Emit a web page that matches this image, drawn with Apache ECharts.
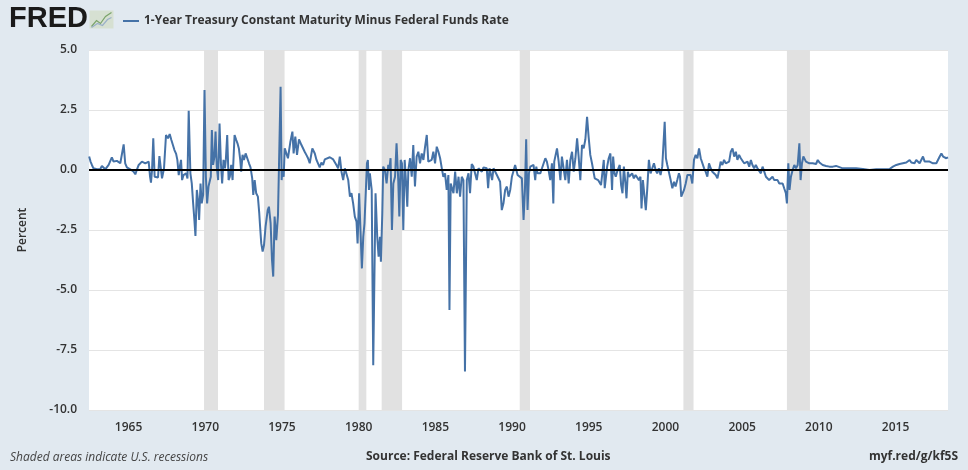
<!DOCTYPE html>
<html>
<head>
<meta charset="utf-8">
<script src="https://cdn.jsdelivr.net/npm/echarts@6/dist/echarts.min.js"></script>
<style>
  html, body { margin: 0; padding: 0; background: #e1e9f0; }
  #chart { width: 968px; height: 470px; }
</style>
</head>
<body>
<div id="chart"></div>
<script>
// decimal years and the monthly spread (percent)
const dates = [
  1962.43, 1962.52, 1962.61, 1962.71, 1962.82, 1962.93, 1963.04, 1963.15, 1963.26, 1963.37,
  1963.48, 1963.59, 1963.70, 1963.80, 1963.91, 1964.02, 1964.13, 1964.24, 1964.35, 1964.46,
  1964.57, 1964.68, 1964.78, 1964.89, 1965.00, 1965.11, 1965.22, 1965.33, 1965.44, 1965.55,
  1965.66, 1965.76, 1965.87, 1965.98, 1966.09, 1966.20, 1966.31, 1966.40, 1966.46, 1966.53,
  1966.61, 1966.70, 1966.81, 1966.92, 1967.01, 1967.09, 1967.18, 1967.31, 1967.44, 1967.57,
  1967.68, 1967.79, 1967.90, 1967.99, 1968.10, 1968.18, 1968.27, 1968.36, 1968.42, 1968.49,
  1968.58, 1968.66, 1968.75, 1968.84, 1968.92, 1969.03, 1969.12, 1969.21, 1969.29, 1969.36,
  1969.45, 1969.53, 1969.60, 1969.69, 1969.77, 1969.86, 1969.95, 1970.04, 1970.12, 1970.21,
  1970.30, 1970.36, 1970.43, 1970.51, 1970.60, 1970.67, 1970.75, 1970.84, 1970.93, 1971.02,
  1971.10, 1971.19, 1971.28, 1971.34, 1971.43, 1971.52, 1971.60, 1971.69, 1971.78, 1971.91,
  1972.02, 1972.10, 1972.19, 1972.28, 1972.34, 1972.43, 1972.52, 1972.63, 1972.74, 1972.85,
  1972.95, 1973.06, 1973.13, 1973.22, 1973.32, 1973.43, 1973.52, 1973.56, 1973.65, 1973.74,
  1973.83, 1973.93, 1974.07, 1974.15, 1974.26, 1974.35, 1974.43, 1974.52, 1974.63, 1974.74,
  1974.81, 1974.91, 1974.98, 1975.02, 1975.11, 1975.18, 1975.29, 1975.39, 1975.55, 1975.68,
  1975.76, 1975.87, 1975.98, 1976.11, 1976.27, 1976.37, 1976.48, 1976.59, 1976.70, 1976.81,
  1976.98, 1977.14, 1977.25, 1977.36, 1977.46, 1977.57, 1977.68, 1977.79, 1977.90, 1978.12,
  1978.34, 1978.44, 1978.55, 1978.66, 1978.77, 1978.88, 1978.99, 1979.10, 1979.21, 1979.32,
  1979.43, 1979.53, 1979.64, 1979.75, 1979.86, 1979.93, 1980.03, 1980.12, 1980.21, 1980.30,
  1980.38, 1980.47, 1980.54, 1980.60, 1980.67, 1980.73, 1980.85, 1980.95, 1981.10, 1981.21,
  1981.30, 1981.39, 1981.45, 1981.54, 1981.60, 1981.71, 1981.82, 1981.93, 1981.99, 1982.08,
  1982.17, 1982.26, 1982.37, 1982.47, 1982.58, 1982.65, 1982.74, 1982.82, 1982.91, 1983.00,
  1983.08, 1983.17, 1983.24, 1983.35, 1983.46, 1983.56, 1983.67, 1983.78, 1983.89, 1984.00,
  1984.11, 1984.22, 1984.33, 1984.44, 1984.54, 1984.65, 1984.76, 1984.87, 1984.98, 1985.09,
  1985.20, 1985.31, 1985.42, 1985.52, 1985.63, 1985.74, 1985.85, 1985.92, 1986.00, 1986.09,
  1986.18, 1986.29, 1986.40, 1986.51, 1986.61, 1986.72, 1986.83, 1986.93, 1987.05, 1987.16,
  1987.26, 1987.37, 1987.48, 1987.59, 1987.70, 1987.81, 1987.92, 1988.03, 1988.14, 1988.24,
  1988.35, 1988.44, 1988.53, 1988.61, 1988.70, 1988.79, 1988.90, 1989.01, 1989.12, 1989.22,
  1989.33, 1989.44, 1989.55, 1989.66, 1989.77, 1989.88, 1989.99, 1990.10, 1990.20, 1990.27,
  1990.36, 1990.49, 1990.64, 1990.75, 1990.84, 1990.92, 1991.01, 1991.10, 1991.19, 1991.29,
  1991.40, 1991.51, 1991.58, 1991.66, 1991.75, 1991.84, 1991.95, 1992.06, 1992.17, 1992.27,
  1992.38, 1992.49, 1992.60, 1992.69, 1992.75, 1992.84, 1992.93, 1993.04, 1993.15, 1993.25,
  1993.36, 1993.47, 1993.58, 1993.69, 1993.80, 1993.91, 1994.02, 1994.13, 1994.24, 1994.34,
  1994.45, 1994.56, 1994.67, 1994.78, 1994.89, 1994.99, 1995.10, 1995.21, 1995.32, 1995.39,
  1995.50, 1995.61, 1995.72, 1995.80, 1995.89, 1995.98, 1996.04, 1996.11, 1996.20, 1996.30,
  1996.41, 1996.52, 1996.59, 1996.68, 1996.76, 1996.85, 1996.96, 1997.02, 1997.11, 1997.20,
  1997.29, 1997.39, 1997.46, 1997.55, 1997.63, 1997.72, 1997.83, 1997.94, 1998.05, 1998.16,
  1998.27, 1998.37, 1998.44, 1998.53, 1998.64, 1998.72, 1998.81, 1998.92, 1999.03, 1999.14,
  1999.25, 1999.36, 1999.46, 1999.57, 1999.68, 1999.79, 1999.86, 1999.95, 2000.03, 2000.12,
  2000.23, 2000.34, 2000.45, 2000.56, 2000.66, 2000.77, 2000.88, 2000.95, 2001.03, 2001.14,
  2001.21, 2001.32, 2001.43, 2001.54, 2001.64, 2001.75, 2001.86, 2001.97, 2002.08, 2002.19,
  2002.30, 2002.41, 2002.52, 2002.62, 2002.73, 2002.84, 2002.95, 2003.06, 2003.17, 2003.28,
  2003.39, 2003.50, 2003.60, 2003.71, 2003.82, 2003.93, 2004.04, 2004.15, 2004.26, 2004.37,
  2004.48, 2004.59, 2004.69, 2004.80, 2004.91, 2005.02, 2005.13, 2005.24, 2005.35, 2005.46,
  2005.57, 2005.67, 2005.78, 2005.89, 2006.00, 2006.11, 2006.22, 2006.33, 2006.44, 2006.55,
  2006.66, 2006.76, 2006.87, 2006.98, 2007.09, 2007.20, 2007.31, 2007.42, 2007.53, 2007.64,
  2007.74, 2007.85, 2007.92, 2008.01, 2008.09, 2008.18, 2008.29, 2008.40, 2008.51, 2008.62,
  2008.73, 2008.81, 2008.90, 2008.99, 2009.16, 2009.38, 2009.60, 2009.82, 2009.93, 2010.04,
  2010.25, 2010.47, 2010.69, 2010.91, 2011.12, 2011.56, 2011.99, 2012.43, 2012.87, 2013.30,
  2013.74, 2014.17, 2014.61, 2014.83, 2015.05, 2015.26, 2015.48, 2015.70, 2015.92, 2016.03,
  2016.14, 2016.24, 2016.35, 2016.57, 2016.79, 2016.90, 2017.01, 2017.22, 2017.44, 2017.66,
  2017.88, 2017.99, 2018.10, 2018.21, 2018.31, 2018.42
];
const spread = [
  0.56, 0.35, 0.21, 0.07, 0.11, 0.03, 0.11, 0.03, 0.17, 0.11,
  0.03, 0.11, 0.21, 0.28, 0.53, 0.35, 0.42, 0.38, 0.35, 0.28,
  0.25, 1.07, 0.28, 0.11, 0.07, 0.03, -0.03, -0.07, -0.18, 0.03,
  0.21, 0.25, 0.35, 0.39, 0.28, 0.28, 0.35, -0.28, -0.53, 0.0,
  1.32, -0.28, -0.21, -0.31, 0.58, 0.14, -0.35, 0.07, 1.46, 1.32,
  1.5, 1.25, 1.32, 0.83, 0.67, 0.42, -0.21, 0.21, 0.42, -0.42,
  -0.21, -0.28, -0.14, -0.35, 2.47, -0.14, -0.56, -1.39, -2.08, -2.75,
  -0.83, -1.25, -2.08, -0.56, -1.39, -1.04, 3.33, -0.28, -1.39, -0.69,
  -0.63, -0.28, 1.67, 0.21, 0.56, 1.6, 0.14, -0.42, 1.94, 0.28,
  -0.56, 0.42, 0.07, 0.42, 1.46, -0.42, -0.28, 0.21, -0.42, 1.46,
  1.25, 1.11, 0.9, 0.42, -0.07, 0.63, 0.42, 0.69, 0.63, 0.28,
  0.11, -0.35, -1.04, -0.42, -0.97, -1.11, -1.81, -2.22, -3.06, -3.40,
  -3.13, -2.36, -1.67, -1.53, -2.22, -3.75, -4.44, -1.94, -2.92, -1.88,
  -1.94, 3.47, -0.42, 0.0, -0.28, 0.9, 0.83, 0.49, 1.18, 1.6,
  0.69, 1.39, 0.63, 1.28, 1.04, 1.04, 0.76, 0.63, 0.49, 0.28,
  0.9, 0.69, 0.42, 0.35, 0.11, 0.31, 0.21, 0.44, 0.42, 0.53,
  0.44, 0.42, 0.21, 0.07, 0.56, -0.07, -0.42, 0.07, 0.07, -0.42,
  -1.11, -0.97, -1.39, -1.94, -2.15, -3.06, -0.97, -0.90, -4.10, -2.78,
  -2.22, -0.83, 0.28, 0.42, -0.83, -0.14, -0.83, -8.13, -0.97, -2.78,
  -3.61, -2.78, -3.82, -1.81, 0.14, 0.0, -0.56, 0.21, 0.0, 0.49,
  -2.5, -0.56, -0.28, 1.11, -0.42, -1.94, 0.42, 0.28, -2.5, 0.42,
  -0.42, -1.53, 0.0, 0.49, -0.28, 1.04, -0.69, 0.56, 0.76, 0.28,
  0.69, 0.42, 0.97, 1.46, 0.35, 0.28, 0.42, 0.76, 0.28, 0.97,
  0.76, 0.49, 0.07, -0.28, -0.14, -0.83, -0.21, -5.83, -0.56, -0.56,
  -0.97, -0.07, -0.97, -0.28, -1.11, -0.28, -0.42, -8.4, -0.42, -0.14,
  -0.97, 0.25, 0.14, 0.21, -0.42, 0.07, 0.14, -0.07, 0.11, 0.07,
  0.07, -0.76, 0.07, 0.14, -0.42, 0.07, 0.0, -0.21, -0.14, -0.49,
  -1.67, -1.39, -0.83, -0.69, -1.11, -0.83, -0.28, -0.21, 0.21, 0.28,
  -0.21, -0.28, -0.35, -2.08, -0.83, 1.28, -1.67, -0.14, 0.14, 0.17,
  0.21, -0.42, 0.14, -0.14, -0.14, -0.14, -0.07, 0.28, 0.49, 0.35,
  0.0, -0.42, 0.28, -1.39, 0.35, 0.42, 0.9, 0.35, -0.42, 0.56,
  0.49, -0.42, 0.42, -0.56, 0.42, 0.76, -0.07, 0.49, 1.32, 0.56,
  -0.42, 1.04, 0.9, 1.28, 2.22, 1.39, 0.63, 0.28, 0.35, -0.35,
  -0.28, -0.42, -0.42, -0.63, -0.69, 0.42, -0.76, -0.83, 0.14, 0.49,
  0.69, -0.83, 0.56, -0.14, -0.28, -0.07, -0.07, 0.21, -0.63, -0.97,
  0.14, -0.56, -1.18, -0.07, -0.28, -0.28, -0.14, -0.35, -0.21, -0.28,
  -0.42, -0.28, -1.60, -0.42, -0.42, -1.67, -0.83, 0.42, -0.14, -0.07,
  0.28, 0.0, -0.14, 0.07, -0.21, 0.14, 0.21, 2.01, 0.49, 0.21,
  0.14, -0.42, -0.76, -0.49, -0.69, -0.42, -0.14, -0.28, -1.11, -1.18,
  -0.83, -0.56, -0.21, -0.28, -0.21, -0.56, 0.42, 0.63, 0.49, 0.9,
  0.49, 0.42, 0.07, -0.07, -0.28, 0.28, 0.07, -0.07, -0.14, -0.21,
  -0.35, 0.0, 0.35, 0.21, 0.42, 0.28, 0.21, 0.35, 0.76, 0.9,
  0.56, 0.76, 0.42, 0.63, 0.49, 0.42, 0.28, 0.21, 0.35, 0.14,
  0.42, 0.21, 0.07, 0.21, 0.07, 0.14, -0.14, 0.14, -0.07, -0.28,
  -0.21, -0.42, -0.35, -0.28, -0.42, -0.49, -0.42, -0.56, -0.63, -0.56,
  -0.76, -0.97, -1.39, 0.28, -0.83, -0.28, 0.0, 0.21, 0.07, 0.21,
  1.11, -0.42, 0.28, 0.56, 0.35, 0.28, 0.28, 0.25, 0.42, 0.31,
  0.21, 0.17, 0.14, 0.14, 0.17, 0.07, 0.07, 0.07, 0.04, 0.0,
  0.03, 0.03, 0.04, 0.14, 0.21, 0.25, 0.28, 0.31, 0.42, 0.31,
  0.35, 0.28, 0.42, 0.28, 0.56, 0.35, 0.42, 0.35, 0.28, 0.28,
  0.56, 0.69, 0.56, 0.63, 0.49, 0.53
];
const recessionStart = [1969.92, 1973.83, 1980.0, 1981.5, 1990.5, 2001.17, 2007.92];
const recessionEnd = [1970.83, 1975.17, 1980.5, 1982.83, 1991.17, 2001.83, 2009.42];
const yearTicks = [1965, 1970, 1975, 1980, 1985, 1990, 1995, 2000, 2005, 2010, 2015];

const seriesName = '1-Year Treasury Constant Maturity Minus Federal Funds Rate';
const labelFont = 'Open Sans';

const chart = echarts.init(document.getElementById('chart'));
chart.setOption({
  backgroundColor: '#e1e9f0',
  animation: false,
  textStyle: { fontFamily: labelFont },
  grid: {
    left: 89,
    right: 20,
    top: 50,
    bottom: 60,
    show: true,
    backgroundColor: '#ffffff',
    borderWidth: 0
  },
  legend: {
    left: 118,
    top: 10,
    icon: 'rect',
    itemWidth: 16,
    itemHeight: 2,
    itemGap: 6,
    textStyle: {
      color: '#333',
      fontSize: 12,
      fontWeight: 'bold',
      fontFamily: labelFont
    },
    data: [seriesName]
  },
  graphic: [
    {
      type: 'text',
      left: 9,
      top: 4,
      style: {
        text: 'FRED',
        font: 'bold 29px "Liberation Sans"',
        fill: '#1a1a1a'
      }
    },
    {
      type: 'group',
      left: 89,
      top: 10,
      children: [
        { type: 'rect', shape: { x: 0, y: 0, width: 24, height: 18 }, style: { fill: '#d6e0d2' } },
        { type: 'polyline', shape: { points: [[2, 16], [7, 10], [11, 13], [16, 6], [22, 2]] }, style: { stroke: '#7aa36a', lineWidth: 1.2, fill: null } },
        { type: 'polyline', shape: { points: [[2, 17], [8, 13], [13, 15], [18, 9], [22, 7]] }, style: { stroke: '#9ab0c8', lineWidth: 1.2, fill: null } }
      ]
    },
    {
      type: 'text',
      left: 10,
      top: 452,
      style: {
        text: 'Shaded areas indicate U.S. recessions',
        font: 'italic 12px "Open Sans"',
        fill: '#444'
      }
    },
    {
      type: 'text',
      left: 366,
      top: 451,
      style: {
        text: 'Source: Federal Reserve Bank of St. Louis',
        font: 'bold 12px "Open Sans"',
        fill: '#333'
      }
    },
    {
      type: 'text',
      right: 10,
      top: 451,
      style: {
        text: 'myf.red/g/kf5S',
        font: 'bold 12px "Open Sans"',
        fill: '#333'
      }
    }
  ],
  xAxis: {
    type: 'value',
    min: 1962.42,
    max: 2018.42,
    axisLine: { show: false },
    axisTick: { show: false },
    splitLine: { show: false },
    axisLabel: {
      customValues: yearTicks,
      formatter: (v) => String(Math.round(v)),
      color: '#333',
      fontSize: 12,
      fontWeight: 600,
      margin: 12
    }
  },
  yAxis: {
    type: 'value',
    min: -10,
    max: 5,
    interval: 2.5,
    name: 'Percent',
    nameLocation: 'middle',
    nameGap: 60,
    nameTextStyle: { color: '#333', fontSize: 12, fontWeight: 600 },
    axisLine: { show: false },
    axisTick: { show: false },
    splitLine: { lineStyle: { color: '#e4e4e4', width: 1 } },
    axisLabel: {
      formatter: (v) => v.toFixed(1),
      color: '#333',
      fontSize: 12,
      fontWeight: 600,
      margin: 12
    }
  },
  series: [
    {
      name: seriesName,
      type: 'line',
      symbol: 'none',
      lineStyle: { color: '#4572a7', width: 2 },
      itemStyle: { color: '#4572a7' },
      data: dates.map((d, i) => [d, spread[i]]),
      markArea: {
        silent: true,
        itemStyle: { color: '#e1e1e1' },
        data: recessionStart.map((s, i) => [{ xAxis: s }, { xAxis: recessionEnd[i] }])
      },
      markLine: {
        silent: true,
        symbol: ['none', 'none'],
        label: { show: false },
        lineStyle: { color: '#000', width: 2, type: 'solid' },
        data: [{ yAxis: 0 }]
      }
    }
  ]
});
</script>
</body>
</html>
